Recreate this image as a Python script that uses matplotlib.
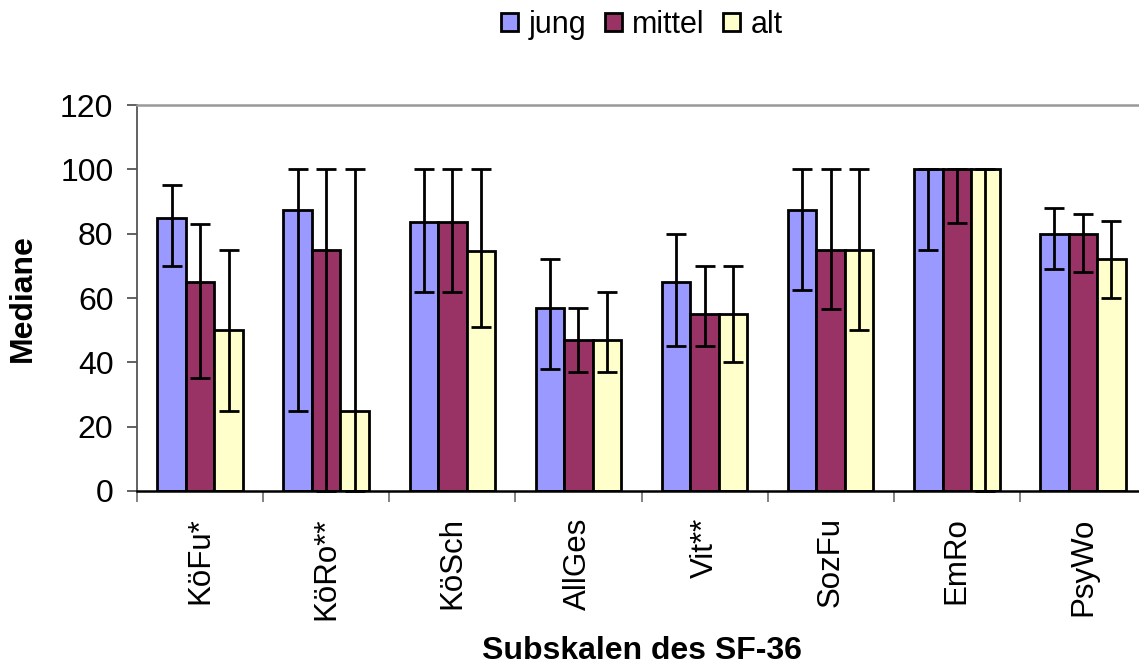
import numpy as np
import matplotlib
matplotlib.use("Agg")
import matplotlib.pyplot as plt
from matplotlib.patches import Patch

plt.rcParams['font.family'] = ['Liberation Sans', 'DejaVu Sans']

categories = ['KöFu*', 'KöRo**', 'KöSch', 'AllGes', 'Vit**', 'SozFu', 'EmRo', 'PsyWo']
groups = ['jung', 'mittel', 'alt']

# median with lower / upper whisker ends
jungMed = [85, 87.5, 83.5, 57, 65, 87.5, 100, 80]
jungLow = [70, 25, 62, 38, 45, 62.5, 75, 69]
jungHigh = [95, 100, 100, 72, 80, 100, 100, 88]

mittelMed = [65, 75, 83.5, 47, 55, 75, 100, 80]
mittelLow = [35, 0, 62, 37, 45, 56.5, 83.3, 68]
mittelHigh = [83, 100, 100, 57, 70, 100, 100, 86]

altMed = [50, 25, 74.5, 47, 55, 75, 100, 72]
altLow = [25, 0, 51, 37, 40, 50, 0, 60]
altHigh = [75, 100, 100, 62, 70, 100, 100, 84]

colors = ['#9999FF', '#993366', '#FFFFCC']


def main():
    fig = plt.figure(figsize=(11.39, 6.68), dpi=100)
    ax = fig.add_axes([137 / 1139, 177 / 668, 1009 / 1139, 386 / 668])

    x = np.arange(len(categories))
    width = 0.226
    series = [(jungMed, jungLow, jungHigh), (mittelMed, mittelLow, mittelHigh), (altMed, altLow, altHigh)]

    for i, (med, low, high) in enumerate(series):
        med = np.array(med, dtype=float)
        yerr = np.vstack([med - np.array(low), np.array(high) - med])
        pos = x + (i - 1) * width
        ax.bar(pos, med, width, color=colors[i], edgecolor='black', linewidth=2.0, zorder=2)
        ax.errorbar(pos, med, yerr=yerr, fmt='none', ecolor='black', elinewidth=2.0,
                    capsize=7, capthick=2.0, zorder=3, clip_on=False)

    ax.set_xlim(-0.5, len(categories) - 0.5)
    ax.set_ylim(0, 120)
    ax.set_yticks(range(0, 121, 20))
    ax.tick_params(axis='y', labelsize=23, length=7, width=1.3, color='#555555', pad=10)

    ax.set_xticks(x)
    ax.set_xticklabels(categories, rotation=90, fontsize=22.5)
    ax.tick_params(axis='x', which='major', length=0, pad=19)
    ax.set_xticks(np.arange(-0.5, len(categories)), minor=True)
    ax.tick_params(axis='x', which='minor', length=8, width=1.3, color='#777777')

    ax.spines['top'].set_color('#999999')
    ax.spines['top'].set_linewidth(1.8)
    ax.spines['right'].set_visible(False)
    ax.spines['left'].set_color('#555555')
    ax.spines['left'].set_linewidth(1.3)
    ax.spines['bottom'].set_color('black')
    ax.spines['bottom'].set_linewidth(1.8)

    ax.set_ylabel('Mediane', fontsize=23, fontweight='bold', labelpad=16)
    fig.text(642 / 1139, 1 - 651 / 668, 'Subskalen des SF-36', fontsize=23,
             fontweight='bold', ha='center', va='center')

    handles = [Patch(facecolor=c, edgecolor='black', linewidth=2.0) for c in colors]
    fig.legend(handles, groups, loc='center', bbox_to_anchor=(642 / 1139, 1 - 25 / 668),
               ncol=3, frameon=False, fontsize=22, handlelength=0.55, handleheight=0.55,
               handletextpad=0.35, columnspacing=0.6, borderpad=0)

    fig.savefig('out.png', dpi=100)


if __name__ == "__main__":
    main()
